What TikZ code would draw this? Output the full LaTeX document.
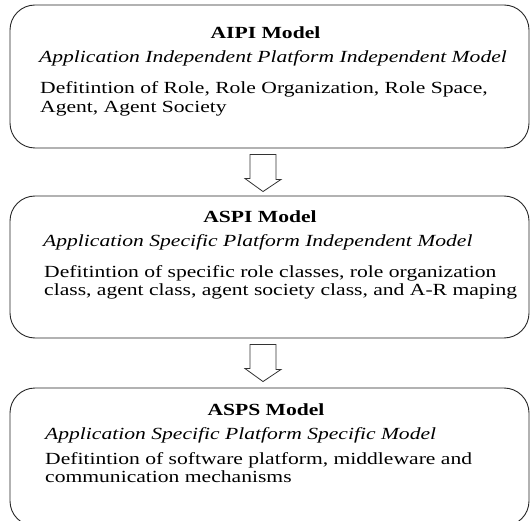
\documentclass[tikz,border=0pt]{standalone}
\usepackage{fontspec}
\setmainfont[FakeStretch=1.27]{Liberation Serif}
\usetikzlibrary{positioning,calc}

\tikzset{
  modelbox/.style={draw=black!85, line width=0.9pt, rounded corners=25pt,
    minimum width=519pt, inner sep=0pt},
  modeltitle/.style={font=\fontsize{17}{18.5}\selectfont\bfseries, inner sep=0pt, anchor=base},
  modelsub/.style={font=\fontsize{17}{18.5}\selectfont\itshape, inner sep=0pt, anchor=base west},
  modelbody/.style={font=\fontsize{17}{18.5}\selectfont, inner sep=0pt, align=left, anchor=north west},
  blockarrow/.style={draw=black!80, line width=0.8pt, fill=white, line join=miter},
}

\begin{document}
\begin{tikzpicture}[x=1pt,y=-1pt]
    \path[use as bounding box, clip] (0,0) rectangle (530,521);

    % AIPI model (top)
    \node[modelbox, minimum height=143pt] (aipi) at (269.5,76.5) {};
    \node[modeltitle] (aipititle) at (265.5,39) {AIPI Model};
    \node[modelsub] (aipisub) at (39,63) {Application Independent Platform Independent Model};
    \node[modelbody] (aipibody) at (40,81.4) {Defitintion of Role, Role Organization, Role Space,\\ Agent, Agent Society};

    % ASPI model (middle)
    \node[modelbox, minimum height=142pt] (aspi) at (269.5,267) {};
    \node[modeltitle] (aspititle) at (260,223) {ASPI Model};
    \node[modelsub] (aspisub) at (43,247) {Application Specific Platform Independent Model};
    \node[modelbody] (aspibody) at (44,265) {Defitintion of specific role classes, role organization\\ class, agent class, agent society class, and A-R maping};

    % ASPS model (bottom)
    \node[modelbox, minimum height=138pt] (asps) at (269.5,457) {};
    \node[modeltitle] (aspstitle) at (266,415) {ASPS Model};
    \node[modelsub] (aspssub) at (45,439) {Application Specific Platform Specific Model};
    \node[modelbody] (aspsbody) at (45,452) {Defitintion of software platform, middleware and\\ communication mechanisms};

    % hollow arrows between the models
    \draw[blockarrow] ($(aipi.south)+(-19.5,6)$) -- ++(26,0) -- ++(0,25) -- ++(5,0)
        -- ($(aspi.north)+(-6.5,-4)$) -- ++(-18,-13) -- ++(5,0) -- cycle;
    \draw[blockarrow] ($(aspi.south)+(-19.5,6)$) -- ++(26,0) -- ++(0,25) -- ++(5,0)
        -- ($(asps.north)+(-6.5,-6)$) -- ++(-18,-13) -- ++(5,0) -- cycle;
\end{tikzpicture}
\end{document}
